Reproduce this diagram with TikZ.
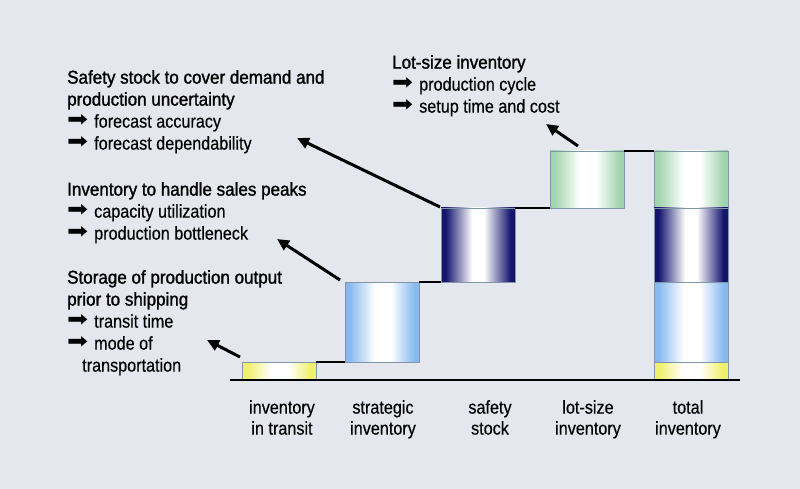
\documentclass[tikz,border=0pt]{standalone}
\usepackage{fontspec}
\setmainfont{Liberation Sans}[FakeStretch=0.875,FakeBold=0.4]
\newfontfamily\medfont{Liberation Sans}[FakeStretch=0.92,FakeBold=1.4]
\newfontfamily\symfont{DejaVu Sans}
\usetikzlibrary{arrows.meta,calc}
\definecolor{bg}{RGB}{228,232,238}
\definecolor{cEdge}{RGB}{130,150,170}
\definecolor{cYel}{RGB}{240,240,110}
\definecolor{cBlue}{RGB}{135,185,240}
\definecolor{cNavy}{RGB}{20,20,110}
\definecolor{cGreen}{RGB}{160,212,172}
\pgfdeclarehorizontalshading{shYel}{100bp}{color(0bp)=(cYel); color(25bp)=(cYel); color(29bp)=(cYel); color(45bp)=(white); color(56bp)=(white); color(71bp)=(cYel); color(75bp)=(cYel); color(100bp)=(cYel)}
\pgfdeclarehorizontalshading{shBlue}{100bp}{color(0bp)=(cBlue); color(25bp)=(cBlue); color(28bp)=(cBlue); color(45bp)=(white); color(56bp)=(white); color(72bp)=(cBlue); color(75bp)=(cBlue); color(100bp)=(cBlue)}
\pgfdeclarehorizontalshading{shNavy}{100bp}{color(0bp)=(cNavy); color(25bp)=(cNavy); color(28bp)=(cNavy); color(46bp)=(white); color(54bp)=(white); color(72bp)=(cNavy); color(75bp)=(cNavy); color(100bp)=(cNavy)}
\pgfdeclarehorizontalshading{shGreen}{100bp}{color(0bp)=(cGreen); color(25bp)=(cGreen); color(28bp)=(cGreen); color(45bp)=(white); color(56bp)=(white); color(72bp)=(cGreen); color(75bp)=(cGreen); color(100bp)=(cGreen)}
\newcommand\tp{\rule{0pt}{13pt}}
\newcommand\hd[1]{{\medfont #1}}
\newcommand\bul{\makebox[27pt][l]{\raisebox{1pt}{\resizebox{21pt}{12pt}{\symfont ➡}}}}
\tikzset{
  bar/.style={draw=cEdge, line width=0.8pt, inner sep=0pt, outer sep=0pt, minimum width=74pt, anchor=north west},
  link/.style={line width=1.8pt, black},
  base/.style={line width=2.2pt, black},
  callout/.style={line width=3pt, black, -{Triangle[length=12pt,width=11pt]}},
  txt/.style={anchor=north west, align=left, inner sep=0pt, font=\fontsize{18.5}{22}\selectfont},
  lab/.style={anchor=north, align=center, inner sep=0pt, font=\fontsize{18.5}{21}\selectfont},
}
\begin{document}
\begin{tikzpicture}[x=1pt,y=-1pt]
\fill[bg] (0,0) rectangle (800,489);
\useasboundingbox (0,0) rectangle (800,489);
% bars
\node[bar, shading=shYel,   minimum height=18pt] (b1) at (242,362) {};
\node[bar, shading=shBlue,  minimum height=80pt] (b2) at (345,282) {};
\node[bar, shading=shNavy,  minimum height=74pt] (b3) at (441,208) {};
\node[bar, shading=shGreen, minimum height=57pt] (b4) at (550,151) {};
\node[bar, shading=shGreen, minimum height=57pt] (t4) at (654,151) {};
\node[bar, shading=shNavy,  minimum height=74pt] (t3) at (654,208) {};
\node[bar, shading=shBlue,  minimum height=80pt] (t2) at (654,282) {};
\node[bar, shading=shYel,   minimum height=18pt] (t1) at (654,362) {};
% step connectors
\draw[link] (b1.north east) -- (b2.south west);
\draw[link] (b2.north east) -- (b3.south west);
\draw[link] (b3.north east) -- (b4.south west);
\draw[link] (b4.north east) -- (t4.north west);
% baseline
\coordinate (bl) at (230,380);
\coordinate (br) at (740,380);
\draw[base] (bl) -- (br);
% text blocks
\node[txt] (tA) at (67,70) {\tp\hd{Safety stock to cover demand and}\\ \hd{production uncertainty}\\ \bul forecast accuracy\\ \bul forecast dependability};
\node[txt] (tB) at (67,182) {\tp\hd{Inventory to handle sales peaks}\\ \bul capacity utilization\\ \bul production bottleneck};
\node[txt] (tC) at (67,270) {\tp\hd{Storage of production output}\\ \hd{prior to shipping}\\ \bul transit time\\ \bul mode of\\ \hspace*{15pt}transportation};
\node[txt] (tD) at (392,55) {\tp\hd{Lot-size inventory}\\ \bul production cycle\\ \bul setup time and cost};
% callout arrows
\coordinate (pA) at (297,138);
\coordinate (pB) at (277,239);
\coordinate (pC) at (207,340);
\coordinate (pD) at (546,124);
\draw[callout] ($(b3.north west)+(-1,-1)$) -- (pA);
\draw[callout] ($(b2.north west)+(-5,-2)$) -- (pB);
\draw[callout] ($(b1.north west)+(-2,-5)$) -- (pC);
\draw[callout] ($(b4.north west)+(28,-5)$) -- (pD);
% axis labels
\node[lab] (l1) at (282,400) {\tp inventory\\ in transit};
\node[lab] (l2) at (383,400) {\tp strategic\\ inventory};
\node[lab] (l3) at (490,400) {\tp safety\\ stock};
\node[lab] (l4) at (588,400) {\tp lot-size\\ inventory};
\node[lab] (l5) at (688,400) {\tp total\\ inventory};
\end{tikzpicture}
\end{document}
